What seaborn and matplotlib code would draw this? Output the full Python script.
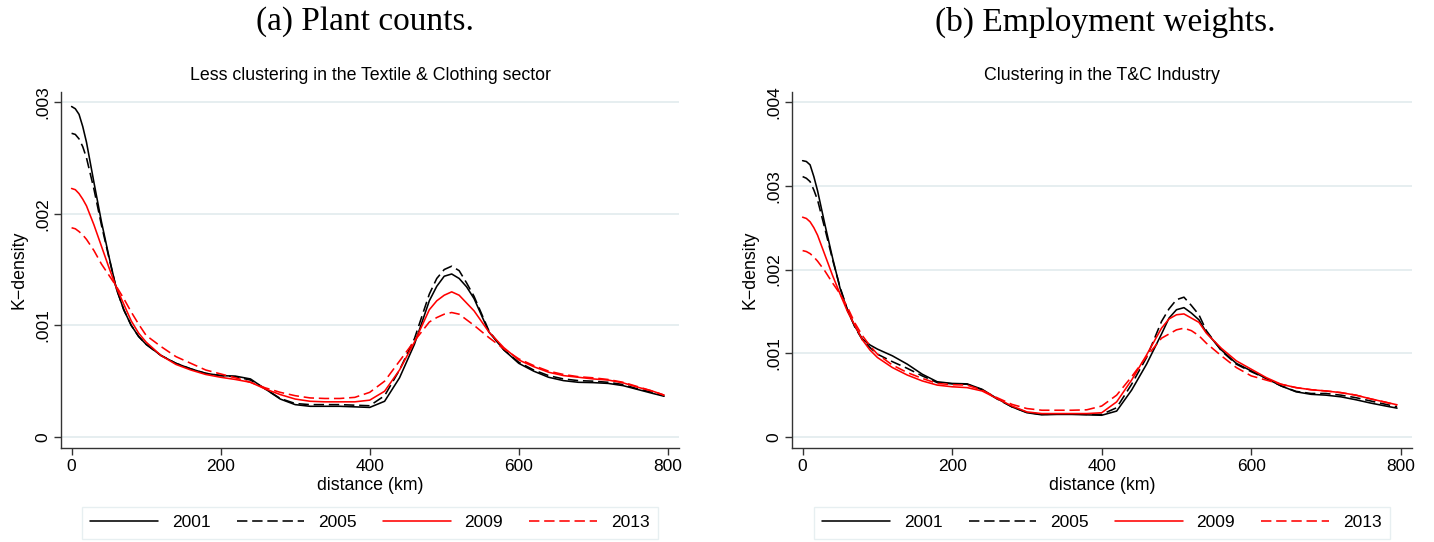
import numpy as np
import pandas as pd
import matplotlib
matplotlib.use("Agg")
import matplotlib.pyplot as plt
from matplotlib.ticker import FuncFormatter
import seaborn as sns

# ---------------- data ----------------
distance_km = [0, 5, 10, 15, 20, 30, 40, 50, 60, 70, 80, 90, 100, 120, 140, 160, 180, 200,
               220, 240, 260, 280, 300, 320, 340, 360, 380, 400, 420, 440, 460, 480, 490,
               500, 510, 520, 530, 540, 560, 580, 600, 620, 640, 660, 680, 700, 720, 740,
               760, 780, 795]
years = ["2001", "2005", "2009", "2013"]

# (a) Plant counts, K-density x 1e-3
a_2001 = [2.96, 2.94, 2.89, 2.78, 2.64, 2.28, 1.93, 1.62, 1.33, 1.14, 1.00, 0.90, 0.83, 0.73, 0.66, 0.61, 0.57, 0.55,
          0.545, 0.52, 0.43, 0.34, 0.29, 0.275, 0.275, 0.275, 0.27, 0.265, 0.32, 0.53, 0.83, 1.22, 1.35,
          1.44, 1.46, 1.42, 1.345, 1.24, 0.94, 0.78, 0.66, 0.59, 0.535, 0.505, 0.49, 0.487, 0.48, 0.46,
          0.425, 0.39, 0.365]
a_2005 = [2.72, 2.71, 2.67, 2.60, 2.50, 2.22, 1.90, 1.61, 1.33, 1.14, 1.00, 0.90, 0.83, 0.73, 0.66, 0.61, 0.57, 0.55,
          0.54, 0.51, 0.43, 0.345, 0.30, 0.29, 0.29, 0.29, 0.285, 0.28, 0.37, 0.60, 0.88, 1.28, 1.42,
          1.50, 1.53, 1.49, 1.38, 1.26, 0.95, 0.78, 0.67, 0.60, 0.55, 0.52, 0.505, 0.50, 0.49, 0.47,
          0.43, 0.40, 0.37]
a_2009 = [2.226, 2.215, 2.18, 2.13, 2.07, 1.90, 1.71, 1.52, 1.34, 1.19, 1.04, 0.93, 0.85, 0.73, 0.65, 0.60, 0.56, 0.535,
          0.515, 0.49, 0.43, 0.38, 0.34, 0.32, 0.315, 0.315, 0.315, 0.33, 0.41, 0.60, 0.85, 1.14, 1.22,
          1.27, 1.30, 1.27, 1.20, 1.13, 0.94, 0.80, 0.69, 0.63, 0.58, 0.55, 0.535, 0.52, 0.51, 0.485,
          0.445, 0.41, 0.375]
a_2013 = [1.874, 1.865, 1.84, 1.81, 1.77, 1.67, 1.55, 1.45, 1.35, 1.24, 1.12, 1.01, 0.91, 0.81, 0.72, 0.66, 0.60, 0.565,
          0.53, 0.49, 0.44, 0.40, 0.37, 0.35, 0.345, 0.345, 0.355, 0.40, 0.50, 0.68, 0.86, 1.03, 1.07,
          1.10, 1.115, 1.10, 1.05, 1.00, 0.89, 0.79, 0.70, 0.64, 0.59, 0.56, 0.54, 0.53, 0.515, 0.49,
          0.45, 0.41, 0.375]

# (b) Employment weights, K-density x 1e-3
b_2001 = [3.30, 3.29, 3.25, 3.11, 2.94, 2.53, 2.14, 1.78, 1.51, 1.32, 1.17, 1.10, 1.05, 0.97, 0.87, 0.75, 0.66, 0.64,
          0.635, 0.57, 0.46, 0.36, 0.29, 0.265, 0.27, 0.27, 0.265, 0.26, 0.31, 0.56, 0.87, 1.23, 1.42,
          1.52, 1.545, 1.48, 1.40, 1.25, 1.04, 0.88, 0.79, 0.70, 0.61, 0.54, 0.51, 0.50, 0.48, 0.445,
          0.405, 0.37, 0.345]
b_2005 = [3.11, 3.09, 3.05, 2.95, 2.83, 2.48, 2.12, 1.79, 1.52, 1.31, 1.16, 1.07, 0.99, 0.90, 0.82, 0.73, 0.65, 0.635,
          0.63, 0.565, 0.455, 0.36, 0.295, 0.27, 0.275, 0.275, 0.27, 0.27, 0.35, 0.63, 0.95, 1.38, 1.53,
          1.64, 1.67, 1.57, 1.46, 1.27, 1.03, 0.87, 0.78, 0.70, 0.61, 0.545, 0.52, 0.52, 0.50, 0.47,
          0.43, 0.39, 0.36]
b_2009 = [2.625, 2.61, 2.57, 2.50, 2.41, 2.17, 1.93, 1.71, 1.50, 1.33, 1.16, 1.04, 0.95, 0.83, 0.74, 0.67, 0.62, 0.60,
          0.59, 0.55, 0.46, 0.37, 0.30, 0.28, 0.28, 0.28, 0.28, 0.29, 0.42, 0.68, 0.98, 1.30, 1.41,
          1.46, 1.47, 1.42, 1.37, 1.24, 1.06, 0.91, 0.81, 0.71, 0.63, 0.59, 0.565, 0.55, 0.53, 0.50,
          0.455, 0.415, 0.385]
b_2013 = [2.226, 2.215, 2.19, 2.15, 2.10, 1.98, 1.84, 1.71, 1.55, 1.36, 1.21, 1.09, 0.99, 0.86, 0.77, 0.70, 0.64, 0.625,
          0.62, 0.56, 0.47, 0.39, 0.34, 0.32, 0.32, 0.32, 0.325, 0.37, 0.50, 0.72, 0.96, 1.18, 1.23,
          1.28, 1.30, 1.27, 1.21, 1.12, 0.97, 0.83, 0.73, 0.68, 0.63, 0.59, 0.565, 0.55, 0.53, 0.50,
          0.455, 0.415, 0.38]

x_ticks = [0, 200, 400, 600, 800]
a_yticks = [0, 0.001, 0.002, 0.003]
b_yticks = [0, 0.001, 0.002, 0.003, 0.004]
panel_titles = ["(a) Plant counts.", "(b) Employment weights."]
inner_titles = ["Less clustering in the Textile & Clothing sector", "Clustering in the T&C Industry"]


def long_df(series):
    frames = []
    for yr, vals in zip(years, series):
        frames.append(pd.DataFrame({"distance": distance_km,
                                    "kdens": np.array(vals) * 1e-3,
                                    "year": yr}))
    return pd.concat(frames, ignore_index=True)


df_a = long_df([a_2001, a_2005, a_2009, a_2013])
df_b = long_df([b_2001, b_2005, b_2009, b_2013])

# ---------------- style ----------------
sns.set_theme(style="white")
plt.rcParams["font.family"] = ["Liberation Sans", "DejaVu Sans"]
plt.rcParams["text.color"] = "black"
plt.rcParams["axes.labelcolor"] = "black"
plt.rcParams["xtick.color"] = "black"
plt.rcParams["ytick.color"] = "black"

palette = {"2001": "black", "2005": "black", "2009": "#ff0000", "2013": "#ff0000"}
dashes = {"2001": "", "2005": (6.5, 3.0), "2009": "", "2013": (6.5, 3.0)}

fig = plt.figure(figsize=(14.34, 5.42), dpi=100)
W, H = 1434, 542
ax_a = fig.add_axes([61 / W, 1 - 448 / H, (679 - 61) / W, (448 - 92) / H])
ax_b = fig.add_axes([792 / W, 1 - 448 / H, (1412 - 792) / W, (448 - 92) / H])


def fmt(v, pos):
    if abs(v) < 1e-12:
        return "0"
    return f"{v:.3f}".lstrip("0")


for ax, df, yt, ylim, ttl in [
    (ax_a, df_a, a_yticks, (-0.0000985, 0.00309), inner_titles[0]),
    (ax_b, df_b, b_yticks, (-0.000131, 0.00412), inner_titles[1]),
]:
    sns.lineplot(data=df, x="distance", y="kdens", hue="year", style="year",
                 palette=palette, dashes=dashes, linewidth=1.15, ax=ax,
                 estimator=None, sort=False)
    ax.set_xlim(-14.2, 815)
    ax.set_ylim(*ylim)
    ax.set_xticks(x_ticks)
    ax.set_yticks(yt)
    ax.yaxis.set_major_formatter(FuncFormatter(fmt))
    ax.grid(axis="y", color="#e6eef0", linewidth=1.4)
    ax.grid(axis="x", visible=False)
    ax.set_axisbelow(True)
    for s in ["top", "right"]:
        ax.spines[s].set_visible(False)
    for s in ["left", "bottom"]:
        ax.spines[s].set_color("#333333")
        ax.spines[s].set_linewidth(1.0)
    ax.tick_params(axis="both", direction="out", length=5, width=1.0,
                   color="#333333", labelsize=12.5, labelcolor="black",
                   bottom=True, left=True, pad=3)
    for lab in ax.get_yticklabels():
        lab.set_rotation(90)
        lab.set_va("center")
    ax.set_xlabel("distance (km)", fontsize=12.8, labelpad=2)
    ax.set_ylabel("K\u2212density", fontsize=12.8, labelpad=5)
    ax.set_title(ttl, fontsize=12.8, pad=9)
    sns.move_legend(ax, "center", bbox_to_anchor=(0.5, -0.21), ncol=4, title=None,
                    frameon=True, fontsize=12.5, handlelength=3.9, handletextpad=0.8,
                    columnspacing=1.5, borderpad=0.5, fancybox=False)
    leg = ax.get_legend()
    leg.get_frame().set_edgecolor("#e2ecee")
    leg.get_frame().set_linewidth(1.0)
    for t in leg.get_texts():
        t.set_color("black")
    for h in leg.get_lines():
        h.set_linewidth(1.15)

fig.text(365 / W, 1 - 22 / H, panel_titles[0], ha="center", va="center",
         fontsize=24, color="black", family=["Liberation Serif", "DejaVu Serif"])
fig.text(1105 / W, 1 - 22 / H, panel_titles[1], ha="center", va="center",
         fontsize=24, color="black", family=["Liberation Serif", "DejaVu Serif"])

fig.savefig("out.png", dpi=100, facecolor="white")
